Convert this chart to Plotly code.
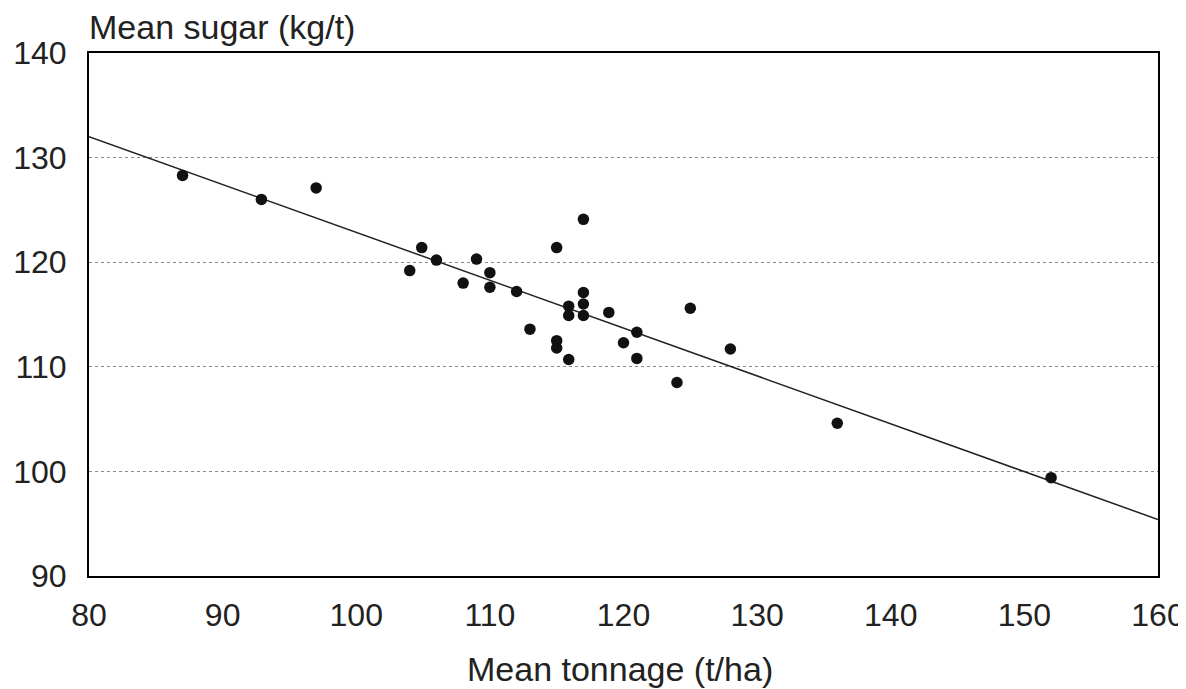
import plotly.graph_objects as go

# Data
tonnage = [87.0, 92.9, 97.0, 104.0, 104.9, 106.0, 108.0, 109.0, 110.0, 110.0,
           112.0, 113.0, 115.0, 115.0, 115.0, 115.9, 115.9, 115.9, 117.0, 117.0,
           117.0, 117.0, 118.9, 120.0, 121.0, 121.0, 124.0, 125.0, 128.0, 136.0,
           152.0]
sugar = [128.3, 126.0, 127.1, 119.2, 121.4, 120.2, 118.0, 120.3, 119.0, 117.6,
         117.2, 113.6, 121.4, 112.5, 111.8, 115.8, 114.9, 110.7, 124.1, 117.1,
         116.0, 114.9, 115.2, 112.3, 113.3, 110.8, 108.5, 115.6, 111.7, 104.6,
         99.4]

fit_x = [80, 160]
fit_y = [132.0, 95.4]

x_ticks = [80, 90, 100, 110, 120, 130, 140, 150, 160]
y_ticks = [90, 100, 110, 120, 130, 140]

FONT = "Liberation Sans, Arial, sans-serif"

fig = go.Figure()
fig.add_trace(go.Scatter(
    x=fit_x, y=fit_y, mode="lines",
    line=dict(color="#222222", width=1.5),
    showlegend=False, hoverinfo="skip",
))
fig.add_trace(go.Scatter(
    x=tonnage, y=sugar, mode="markers",
    marker=dict(color="#111111", size=11.5),
    showlegend=False,
))

fig.update_layout(
    width=1186, height=681,
    paper_bgcolor="white", plot_bgcolor="white",
    margin=dict(l=81, r=36, t=45, b=113),
    font=dict(family=FONT, size=32, color="#222222"),
    xaxis=dict(
        range=[80, 160], tickvals=x_ticks, ticktext=[str(v) for v in x_ticks],
        showgrid=False, zeroline=False, automargin=False,
        showline=True, mirror=True, linecolor="black", linewidth=2,
        ticks="outside", ticklen=10, tickcolor="rgba(0,0,0,0)",
        tickfont=dict(family=FONT, size=32, color="#222222"),
    ),
    yaxis=dict(
        range=[90, 140], tickvals=y_ticks, ticktext=[str(v) for v in y_ticks],
        showgrid=True, gridcolor="#8a8a8a", gridwidth=1, griddash="dot",
        zeroline=False, automargin=False,
        showline=True, mirror=True, linecolor="black", linewidth=2,
        ticks="outside", ticklen=14, tickcolor="rgba(0,0,0,0)",
        tickfont=dict(family=FONT, size=32, color="#222222"),
    ),
    annotations=[
        dict(text="Mean sugar (kg/t)", xref="paper", yref="paper",
             x=0, y=1, xanchor="left", yanchor="middle",
             xshift=-2, yshift=26, showarrow=False,
             font=dict(family=FONT, size=34, color="#222222")),
        dict(text="Mean tonnage (t/ha)", xref="paper", yref="paper",
             x=0.497, y=0, xanchor="center", yanchor="middle",
             yshift=-93, showarrow=False,
             font=dict(family=FONT, size=34, color="#222222")),
    ],
)

fig.write_html("out.html")
